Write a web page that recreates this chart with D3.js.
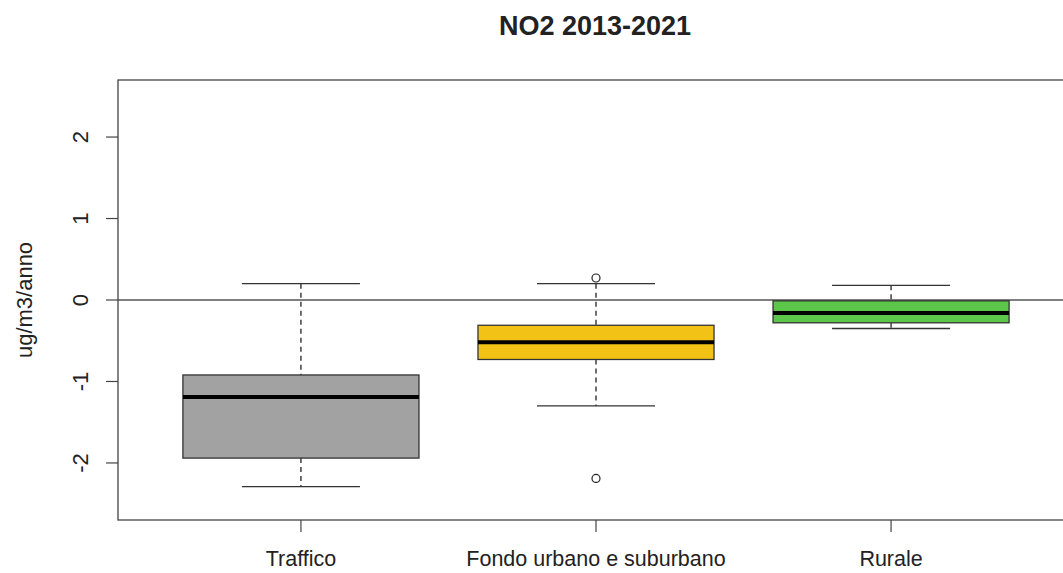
<!DOCTYPE html>
<html><head><meta charset="utf-8">
<script src="https://cdn.jsdelivr.net/npm/d3@7"></script>
<style>body{margin:0;background:#fff}svg{display:block}text{font-family:"Liberation Sans",Arial,sans-serif;fill:#222}</style>
</head><body>
<script>
const categories = ["Traffico", "Fondo urbano e suburbano", "Rurale"];
const lowerWhisker = [-2.29, -1.30, -0.35];
const q1 = [-1.94, -0.73, -0.28];
const median = [-1.19, -0.52, -0.16];
const q3 = [-0.92, -0.31, -0.01];
const upperWhisker = [0.20, 0.20, 0.18];
const outliers = [[], [0.27, -2.19], []];
const fills = ["#a2a2a2", "#f2c316", "#5cc64a"];
const yTicks = [-2, -1, 0, 1, 2];
const title = "NO2 2013-2021";
const yLabel = "ug/m3/anno";

const W = 1063, H = 573;
const svg = d3.select("body").append("svg").attr("width", W).attr("height", H);
const x = d3.scaleLinear().domain([0.38, 3.62]).range([118, 1074]);
const y = d3.scaleLinear().domain([-2.7, 2.7]).range([520, 80]);
const half = (x(1.4) - x(1));
const cap = half / 2;

// zero line
svg.append("line").attr("x1", x(0.38)).attr("x2", x(3.62)).attr("y1", y(0)).attr("y2", y(0))
  .attr("stroke", "#555").attr("stroke-width", 1.3);

categories.forEach((c, i) => {
  const cx = x(i + 1);
  const g = svg.append("g");
  g.append("line").attr("x1", cx).attr("x2", cx).attr("y1", y(upperWhisker[i])).attr("y2", y(q3[i]))
    .attr("stroke", "#222").attr("stroke-width", 1.3).attr("stroke-dasharray", "5,4");
  g.append("line").attr("x1", cx).attr("x2", cx).attr("y1", y(q1[i])).attr("y2", y(lowerWhisker[i]))
    .attr("stroke", "#222").attr("stroke-width", 1.3).attr("stroke-dasharray", "5,4");
  [upperWhisker[i], lowerWhisker[i]].forEach(v => {
    g.append("line").attr("x1", cx - cap).attr("x2", cx + cap).attr("y1", y(v)).attr("y2", y(v))
      .attr("stroke", "#333").attr("stroke-width", 1.3);
  });
  g.append("rect").attr("x", cx - half).attr("width", 2 * half)
    .attr("y", y(q3[i])).attr("height", y(q1[i]) - y(q3[i]))
    .attr("fill", fills[i]).attr("stroke", "#333").attr("stroke-width", 1.3);
  g.append("line").attr("x1", cx - half).attr("x2", cx + half).attr("y1", y(median[i])).attr("y2", y(median[i]))
    .attr("stroke", "#000").attr("stroke-width", 4);
  outliers[i].forEach(v => {
    g.append("circle").attr("cx", cx).attr("cy", y(v)).attr("r", 4)
      .attr("fill", "none").attr("stroke", "#222").attr("stroke-width", 1.2);
  });
});

// frame
svg.append("rect").attr("x", 118).attr("y", 80).attr("width", x(3.62) - 118).attr("height", 440)
  .attr("fill", "none").attr("stroke", "#444").attr("stroke-width", 1.3);

// y axis
const yAxis = svg.append("g");
yTicks.forEach(t => {
  yAxis.append("line").attr("x1", 106).attr("x2", 118).attr("y1", y(t)).attr("y2", y(t))
    .attr("stroke", "#444").attr("stroke-width", 1.2);
  yAxis.append("text").attr("transform", `translate(88,${y(t)}) rotate(-90)`)
    .attr("text-anchor", "middle").attr("font-size", 22).text(String(t));
});

// x axis
categories.forEach((c, i) => {
  svg.append("line").attr("x1", x(i + 1)).attr("x2", x(i + 1)).attr("y1", 520).attr("y2", 532)
    .attr("stroke", "#444").attr("stroke-width", 1.2);
  svg.append("text").attr("x", x(i + 1)).attr("y", 566).attr("text-anchor", "middle")
    .attr("font-size", 21.5).text(c);
});

// y label
svg.append("text").attr("transform", `translate(32,300) rotate(-90)`).attr("text-anchor", "middle")
  .attr("font-size", 22).text(yLabel);

// title
svg.append("text").attr("x", 595).attr("y", 35).attr("text-anchor", "middle")
  .attr("font-size", 27).attr("font-weight", "bold").text(title);
</script>
</body></html>
